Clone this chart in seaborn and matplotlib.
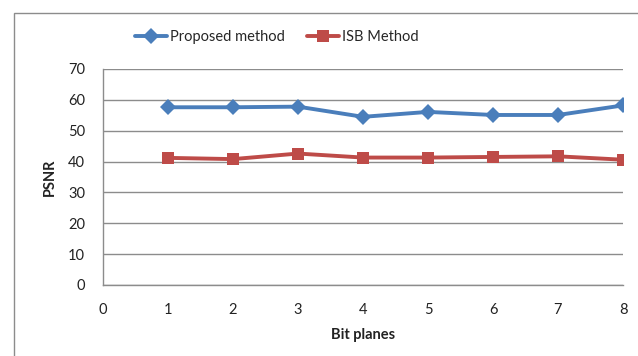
import matplotlib
matplotlib.use("Agg")
import matplotlib.pyplot as plt
import seaborn as sns
import pandas as pd
from matplotlib.patches import Rectangle

bit_planes = [1, 2, 3, 4, 5, 6, 7, 8]
proposed = [57.6, 57.6, 57.8, 54.5, 56.1, 55.1, 55.1, 58.2]
isb = [41.2, 40.8, 42.6, 41.3, 41.3, 41.5, 41.7, 40.6]
series_names = ["Proposed method", "ISB Method"]
x_ticks = [0, 1, 2, 3, 4, 5, 6, 7, 8]
y_ticks = [0, 10, 20, 30, 40, 50, 60, 70]

df = pd.DataFrame({
    "Bit planes": bit_planes * 2,
    "PSNR": proposed + isb,
    "series": [series_names[0]] * len(bit_planes) + [series_names[1]] * len(bit_planes),
})

sns.set_theme(style="white")
plt.rcParams["font.family"] = ["Lato", "DejaVu Sans"]

fig = plt.figure(figsize=(6.38, 3.56), dpi=100)
W, H = 638, 356
ax = fig.add_axes([103 / W, 1 - 285 / H, (623 - 103) / W, (285 - 69) / H])

# chart frame
fig.patches.append(Rectangle((14 / W, -0.1), 1.2, 1 - 13 / H + 0.1,
                             transform=fig.transFigure, fill=False,
                             edgecolor="#8c8c8c", linewidth=1.0))

palette = {series_names[0]: "#4A7EBB", series_names[1]: "#BE4B48"}
markers = {series_names[0]: "D", series_names[1]: "s"}
sns.lineplot(data=df, x="Bit planes", y="PSNR", hue="series", style="series",
             palette=palette, markers=markers, dashes=False, linewidth=2.8,
             markersize=8.5, markeredgewidth=0, ax=ax, legend=True)

ax.set_xlim(0, 8)
ax.set_ylim(0, 70)
ax.set_xticks(x_ticks)
ax.set_yticks(y_ticks)
ax.yaxis.grid(True, color="#8c8c8c", linewidth=1.0)
ax.xaxis.grid(False)
for s in ["top", "right"]:
    ax.spines[s].set_visible(False)
for s in ["left", "bottom"]:
    ax.spines[s].set_color("#8c8c8c")
    ax.spines[s].set_linewidth(1.0)
ax.tick_params(axis="both", length=0, labelsize=10.5, colors="#222222")
ax.tick_params(axis="x", pad=13)
ax.tick_params(axis="y", pad=13)
ax.set_xlabel("Bit planes", fontsize=10.5, fontweight="bold", color="#222222", labelpad=8)
ax.set_ylabel("PSNR", fontsize=10.5, fontweight="bold", color="#222222", labelpad=8)

handles, labels = ax.get_legend_handles_labels()
ax.legend(handles, labels, loc="center",
          bbox_to_anchor=((277 - 103) / (623 - 103), 1 + (69 - 37) / (285 - 69)),
          ncol=2, frameon=False, fontsize=10.5, handlelength=2.2, handletextpad=0.2,
          columnspacing=1.5)

fig.savefig("out.png", dpi=100)
